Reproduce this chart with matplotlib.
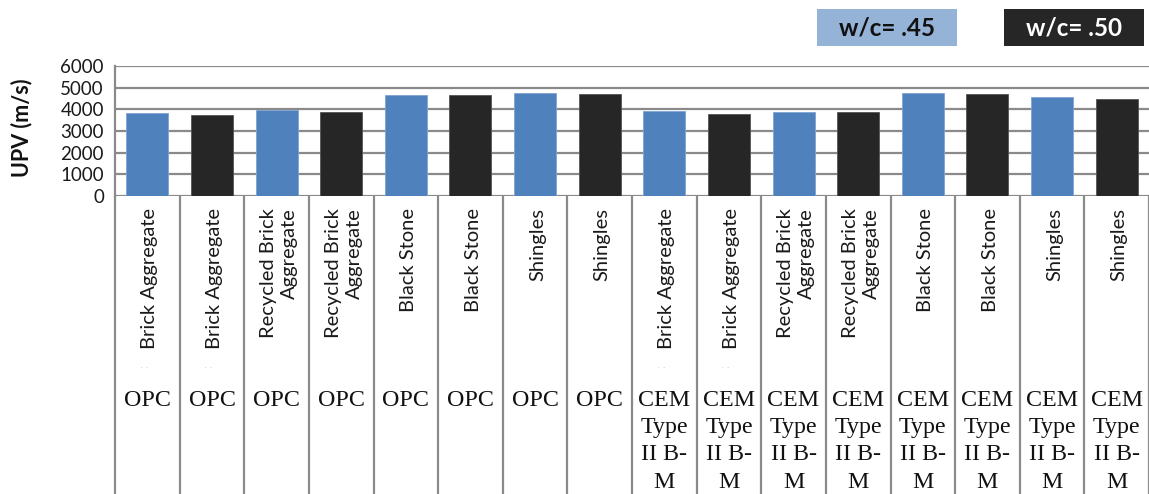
import matplotlib
matplotlib.use("Agg")
import matplotlib.pyplot as plt
from matplotlib.patches import Rectangle
from matplotlib.transforms import blended_transform_factory

# Concrete mixes: aggregate type and cement type
aggregates = ["Brick Aggregate", "Recycled Brick\nAggregate", "Black Stone", "Shingles",
              "Brick Aggregate", "Recycled Brick\nAggregate", "Black Stone", "Shingles"]
cements = ["OPC", "OPC", "OPC", "OPC",
           "CEM\nType\nII B-\nM", "CEM\nType\nII B-\nM", "CEM\nType\nII B-\nM", "CEM\nType\nII B-\nM"]

# Ultrasonic pulse velocity (m/s) for each w/c ratio
upv_045 = [3820, 3960, 4660, 4770, 3920, 3890, 4770, 4580]
upv_050 = [3750, 3890, 4660, 4710, 3770, 3890, 4710, 4460]

series_labels = ["w/c= .45", "w/c= .50"]
yticks = [0, 1000, 2000, 3000, 4000, 5000, 6000]

BLUE = "#4f81bd"
DARK = "#262626"
LEGEND_BLUE = "#95b3d7"
GRID = "#8a8a8a"

W, H = 1149, 494
fig = plt.figure(figsize=(W / 100, H / 100), dpi=100)

x0, x1 = 115, 1149
y_zero, y_top = 196, 66
ax = fig.add_axes([x0 / W, (H - y_zero) / H, (x1 - x0) / W, (y_zero - y_top) / H])
lab = fig.add_axes([x0 / W, 0, (x1 - x0) / W, (H - y_zero) / H])

n = len(aggregates)
pos_045 = [2 * i for i in range(n)]
pos_050 = [2 * i + 1 for i in range(n)]

ax.bar(pos_045, upv_045, width=0.65, color=BLUE, edgecolor="#7fa3d3", linewidth=0.6, zorder=3)
ax.bar(pos_050, upv_050, width=0.65, color=DARK, edgecolor="#555555", linewidth=0.6, zorder=3)

ax.set_xlim(-0.5, 2 * n - 0.5)
ax.set_ylim(0, 6000)
ax.set_yticks(yticks)
ax.set_yticklabels([str(v) for v in yticks], fontfamily="Lato", fontsize=13.5, color="#1a1a1a")
ax.set_xticks([])
ax.tick_params(axis="y", length=0, pad=8)
ax.yaxis.grid(True, color=GRID, linewidth=1.6, zorder=0)
ax.set_axisbelow(True)
for side in ["top", "right", "bottom"]:
    ax.spines[side].set_visible(False)
ax.spines["left"].set_color(GRID)
ax.spines["left"].set_linewidth(1.6)
ax.patch.set_visible(False)

fig.text(22 / W, (H - 128) / H, "UPV (m/s)", rotation=90, ha="center", va="center",
         fontfamily="Lato", fontweight="bold", fontsize=15.5, color="#111111")

# Category table below the bars
lab.set_xlim(-0.5, 2 * n - 0.5)
lab.set_ylim(0, 1)
lab.axis("off")
lab.vlines([k - 0.5 for k in range(2 * n + 1)], 0, 1, colors=GRID, linewidth=1.6, clip_on=False)

trans = blended_transform_factory(lab.transData, lab.transAxes)
col_h = H - y_zero
for i in range(n):
    for p in (pos_045[i], pos_050[i]):
        lab.text(p + 0.04, 1 - 12 / col_h, aggregates[i], rotation=90, ha="center", va="top",
                 multialignment="right", fontfamily="Lato", fontsize=14.5, color="#1a1a1a",
                 linespacing=1.3, transform=trans, clip_on=False)
        if aggregates[i] == "Brick Aggregate":
            lab.text(p - 0.05, 1 - 171 / col_h, ".  .", ha="center", va="center",
                     fontsize=4, color="#888888", transform=trans)
        lab.text(p, 1 - 194 / col_h, cements[i], ha="center", va="top",
                 multialignment="center", fontfamily="Liberation Serif", fontsize=17.3,
                 color="#111111", linespacing=1.39, transform=trans)

# Legend boxes
boxes = [(817, 9, 140, 37, LEGEND_BLUE, "#111111"), (1004, 9, 140, 37, DARK, "white")]
for (bx, by, bw, bh, fc, tc), label in zip(boxes, series_labels):
    fig.patches.append(Rectangle((bx / W, (H - by - bh) / H), bw / W, bh / H,
                                 transform=fig.transFigure, facecolor=fc, edgecolor="none"))
    fig.text((bx + bw / 2) / W, (H - by - bh / 2 - 1) / H, label, ha="center", va="center",
             fontfamily="Lato", fontweight="bold", fontsize=17.5, color=tc)

fig.savefig("out.png", dpi=100)
